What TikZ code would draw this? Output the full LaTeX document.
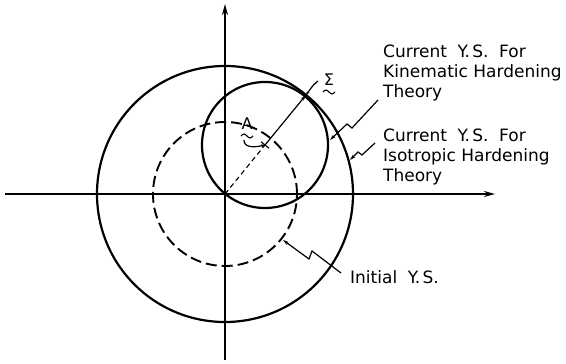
\documentclass[tikz,border=0pt]{standalone}
\usepackage{fontspec}
\setmainfont{DejaVu Sans}
\usetikzlibrary{arrows.meta}
\newcommand\ws{\hspace{0.62em}}
\begin{document}
\begin{tikzpicture}[x=1pt,y=-1pt,
  axis/.style={line width=1.9pt},
  ys/.style={line width=2.2pt},
  ysinit/.style={line width=1.9pt, dash pattern=on 11pt off 5pt},
  leader/.style={line width=1.2pt, -{Stealth[length=6pt,width=3.5pt]}},
  lbl/.style={font=\fontsize{17}{20}\selectfont, inner sep=0pt, align=left, anchor=north west},
  sym/.style={font=\fontsize{16}{16}\selectfont, inner sep=0pt},
  tilde/.style={line width=1.1pt},
]
\useasboundingbox (0,0) rectangle (566,364);
% origin and axes
\coordinate (O) at (225,194);
\coordinate (xl) at (5,194);
\coordinate (xr) at (495,194);
\coordinate (yb) at (225,360);
\coordinate (yt) at (225,4);
\draw[axis,-{Stealth[length=11pt,width=6pt]}] (xl) -- (xr);
\draw[axis,-{Stealth[length=11pt,width=6pt]}] (yb) -- (yt);
% yield surfaces
\draw[ys] (O) circle[radius=128pt];
\draw[ysinit] (O) circle[radius=72pt];
\coordinate (C) at (265,145);
\draw[ys] (C) circle[radius=63pt];
% radius vector
\coordinate (T) at (306,95);
\draw[line width=1.1pt, dash pattern=on 5pt off 3.5pt] (O) -- (C);
\draw[leader] (C) -- (T);
\draw[line width=1.1pt] (261,141.8) -- (269,148.2);
% labels A and Sigma
\node[sym] (A) at (247,124) {A};
\draw[tilde] (241,136) sin ++(3,-2) cos ++(3,2) sin ++(3,2) cos ++(3,-2);
\draw[leader,-{Stealth[length=4pt,width=3pt]}] (244,140) .. controls (244,147) and (252,148) .. (C);
\node[sym] (S) at (329,80) {Σ};
\draw[tilde] (323,92) sin ++(3,-2) cos ++(3,2) sin ++(3,2) cos ++(3,-2);
\draw[leader,-{Stealth[length=4pt,width=3pt]}] (318,81) .. controls (314,84) .. (T);
% text labels
\node[lbl] (kin) at (383,45) {Current\ws Y.\kern2.5pt S.\ws For\\Kinematic Hardening\\Theory};
\node[lbl] (iso) at (383,129) {Current\ws Y.\kern2.5pt S.\ws For\\Isotropic Hardening\\Theory};
\node[lbl,anchor=base west] (ini) at (350,283) {Initial\ws Y.\kern2.5pt S.};
% leaders
\coordinate (kt) at (330,140);
\coordinate (ke) at (378,100);
\draw[leader] (ke) -- (352,128) -- (347,124) -- (kt);
\coordinate (it) at (350,160);
\coordinate (ie) at (375,143);
\draw[leader] (ie) -- (362,155) -- (358,152) -- (it);
\coordinate (nt) at (283,240);
\coordinate (ne) at (341,273);
\draw[leader] (ne) -- (312,251) -- (309,259) -- (nt);
\end{tikzpicture}
\end{document}
